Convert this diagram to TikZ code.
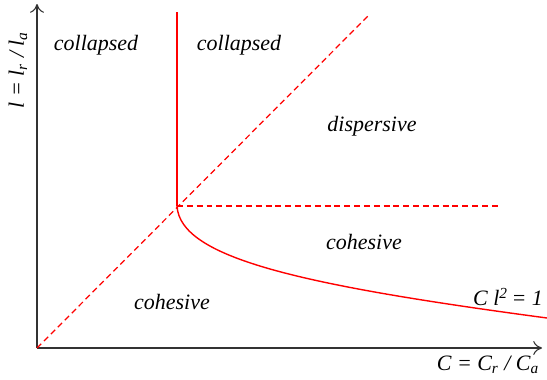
\documentclass[tikz,border=0pt]{standalone}
\usepackage{fontspec}
\setmainfont{Liberation Serif}
\usetikzlibrary{arrows.meta}

\begin{document}
\begin{tikzpicture}[
	x=0.02cm,y=-0.02cm,
	rlab/.style={font=\fontsize{12.5}{14}\selectfont\itshape,inner sep=0pt},
	axis/.style={draw=black!80,line width=0.6pt,-{To[length=5pt,width=8pt]}},
	bound/.style={draw=red,line width=0.8pt},
	dbound/.style={draw=red,line width=0.7pt,dash pattern=on 3.4pt off 2.2pt}
	]
	\useasboundingbox (0,0) rectangle (547,379);
	% axes and phase boundaries
	\coordinate (o) at (37,348);
	\coordinate (xend) at (542,348);
	\coordinate (yend) at (37,4);
	\coordinate (crit) at (177,206);
	\coordinate (ctop) at (177,12);
	\coordinate (dtop) at (370,14);
	\coordinate (hend) at (498,206);
	\coordinate (cend) at (547,318);
	\draw[axis] (o) -- (xend);
	\draw[axis] (o) -- (yend);
	\draw[dbound] (o) -- (dtop);
	\draw[dbound] (crit) -- (hend);
	\draw[bound] (crit) -- (ctop);
	\draw[bound] (crit) .. controls (180,258) and (300,285) .. (cend);
	% region labels
	\foreach \n/\pos/\txt in {col1/{(96,45)}/collapsed,col2/{(239,45)}/collapsed,
		disp/{(372,126)}/dispersive,coh1/{(364,242)}/cohesive,coh2/{(172,302)}/cohesive}{
		\node[rlab] (\n) at \pos {\txt};
	}
	\node[rlab] (curve) at (508,297) {C l\textsuperscript{2}\,= 1};
	\node[rlab] (xlab) at (488,365) {C = C\textsubscript{r} / C\textsubscript{a}};
	\node[rlab,rotate=90] (ylab) at (18,70) {l = l\textsubscript{r} / l\textsubscript{a}};
\end{tikzpicture}
\end{document}
